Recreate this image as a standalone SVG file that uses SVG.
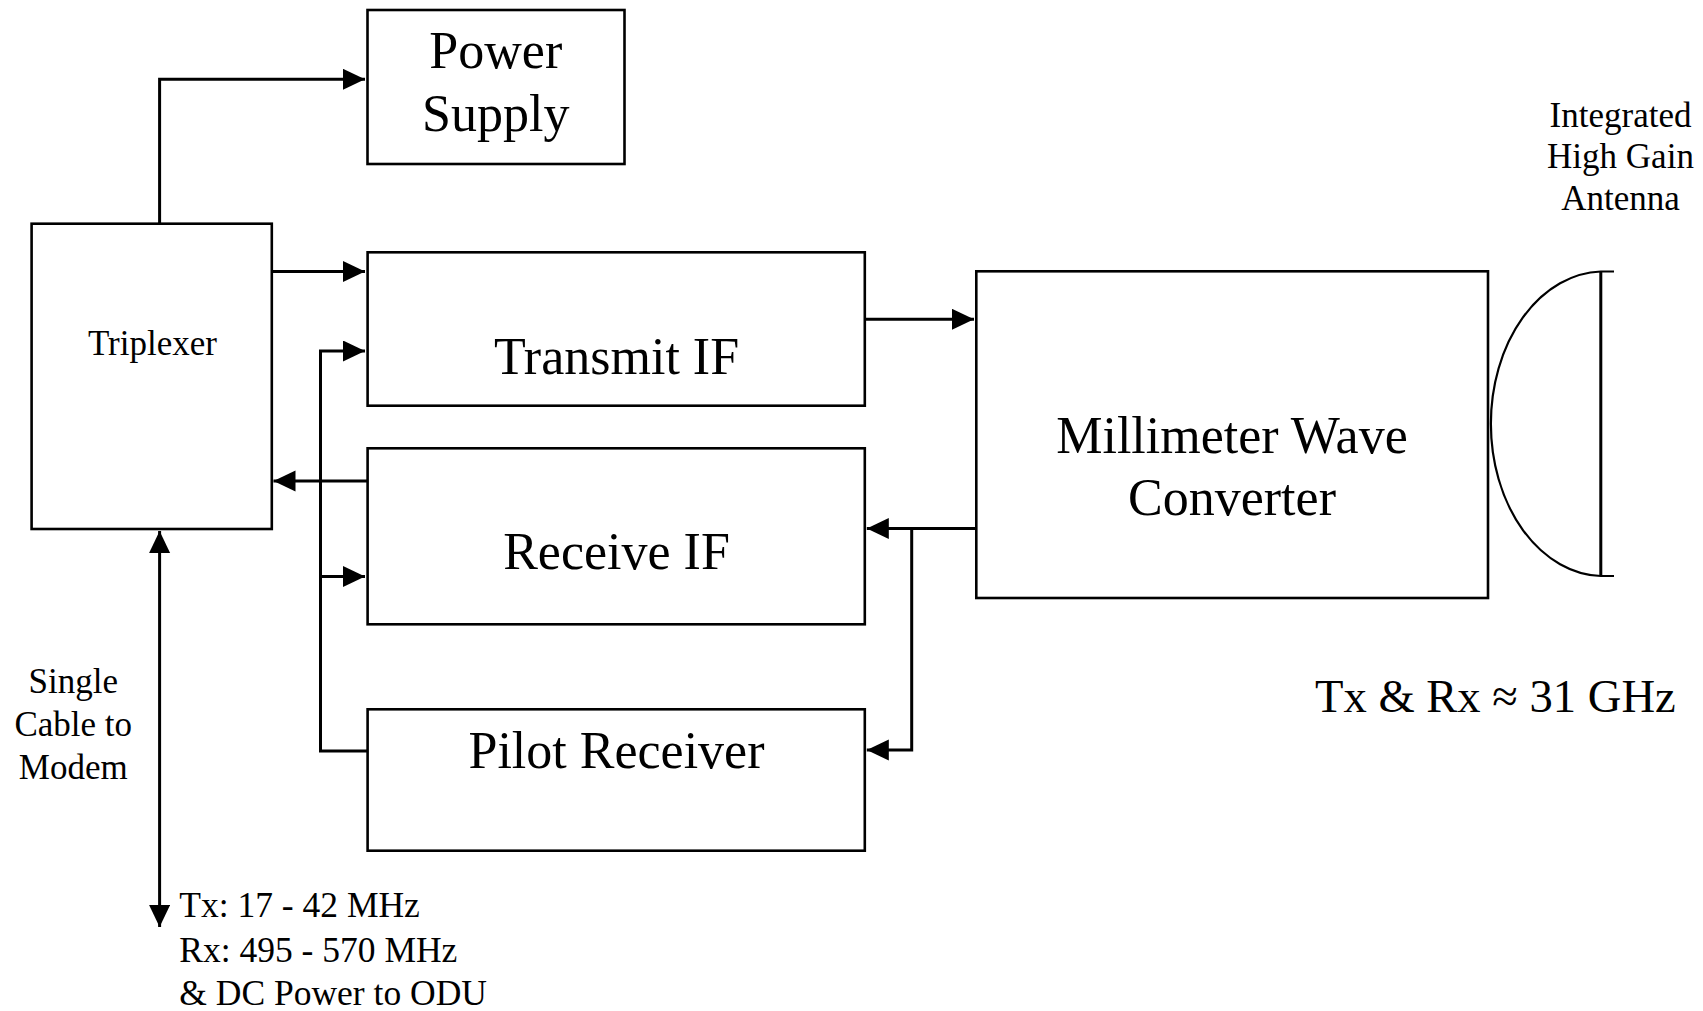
<svg xmlns="http://www.w3.org/2000/svg" width="1703" height="1011" viewBox="0 0 1703 1011">
<style>
.box{fill:#fff;stroke:#000;stroke-width:2.6}
.t{font-family:"Liberation Serif","Times New Roman",serif;fill:#000}
.big{font-size:52px;text-anchor:middle}
.sm{font-size:35px}
.c{text-anchor:middle}
.conn{fill:none;stroke:#000;stroke-width:3}
</style>
<defs>
<marker id="ah" markerUnits="userSpaceOnUse" markerWidth="24" markerHeight="22" refX="22" refY="10.5" orient="auto-start-reverse">
<path d="M0,0 L22,10.5 L0,21 z" fill="#000"/>
</marker>
</defs>
<rect width="1703" height="1011" fill="#fff"/>
<g id="connectors">
<path class="conn" d="M159.6,223.7 V79.3 H365" marker-end="url(#ah)"/>
<path class="conn" d="M271.5,271.6 H365" marker-end="url(#ah)"/>
<path class="conn" d="M367.4,751 H320.5 V351 H365" marker-end="url(#ah)"/>
<path class="conn" d="M320.5,576.5 H365" marker-end="url(#ah)"/>
<path class="conn" d="M367.4,481 H273.5" marker-end="url(#ah)"/>
<path class="conn" d="M864.8,319.3 H974" marker-end="url(#ah)"/>
<path class="conn" d="M976.3,528.5 H866.8" marker-end="url(#ah)"/>
<path class="conn" d="M911.7,528.5 V750 H866.8" marker-end="url(#ah)"/>
<path class="conn" d="M159.6,531 V927" marker-start="url(#ah)" marker-end="url(#ah)"/>
</g>
<g id="power-supply">
<rect class="box" x="367.5" y="10" width="257" height="154"/>
<text class="t big" x="495.8" y="68.3">Power</text>
<text class="t big" x="495.8" y="130.7">Supply</text>
</g>
<g id="triplexer">
<rect class="box" x="31.6" y="223.7" width="240.2" height="305.3"/>
<text class="t sm c" x="152.4" y="355">Triplexer</text>
</g>
<g id="transmit-if">
<rect class="box" x="367.6" y="252.3" width="497.2" height="153.4"/>
<text class="t big" x="616.5" y="373.5">Transmit IF</text>
</g>
<g id="receive-if">
<rect class="box" x="367.6" y="448.3" width="497.2" height="176"/>
<text class="t big" x="616.5" y="569.3">Receive IF</text>
</g>
<g id="pilot-receiver">
<rect class="box" x="367.6" y="709.3" width="497.2" height="141.4"/>
<text class="t big" x="616.5" y="768.3">Pilot Receiver</text>
</g>
<g id="mm-wave-converter">
<rect class="box" x="976.3" y="271.3" width="511.7" height="326.7"/>
<text class="t big" x="1232" y="452.7">Millimeter Wave</text>
<text class="t big" x="1232" y="515">Converter</text>
</g>
<g id="antenna">
<path d="M1614,271.5 H1600.8 A112.8,152.3 0 0 0 1600.8,576 H1614" fill="none" stroke="#000" stroke-width="2.2"/>
<line x1="1600.8" y1="271.5" x2="1600.8" y2="576" stroke="#000" stroke-width="3"/>
<text class="t sm c" x="1620.5" y="126.7">Integrated</text>
<text class="t sm c" x="1620.5" y="168.3">High Gain</text>
<text class="t sm c" x="1620.5" y="210">Antenna</text>
</g>
<g id="labels">
<text class="t sm c" x="73.3" y="693.3">Single</text>
<text class="t sm c" x="73.3" y="736">Cable to</text>
<text class="t sm c" x="73.3" y="779.3">Modem</text>
<text class="t" font-size="35.5" x="179.3" y="916.7">Tx: 17 - 42 MHz</text>
<text class="t" font-size="35.5" x="179.3" y="961.7">Rx: 495 - 570 MHz</text>
<text class="t" font-size="35.5" x="179.3" y="1005">&amp; DC Power to ODU</text>
<text class="t" x="1315" y="711.7" font-size="46.6">Tx &amp; Rx ≈ 31 GHz</text>
</g>
</svg>
